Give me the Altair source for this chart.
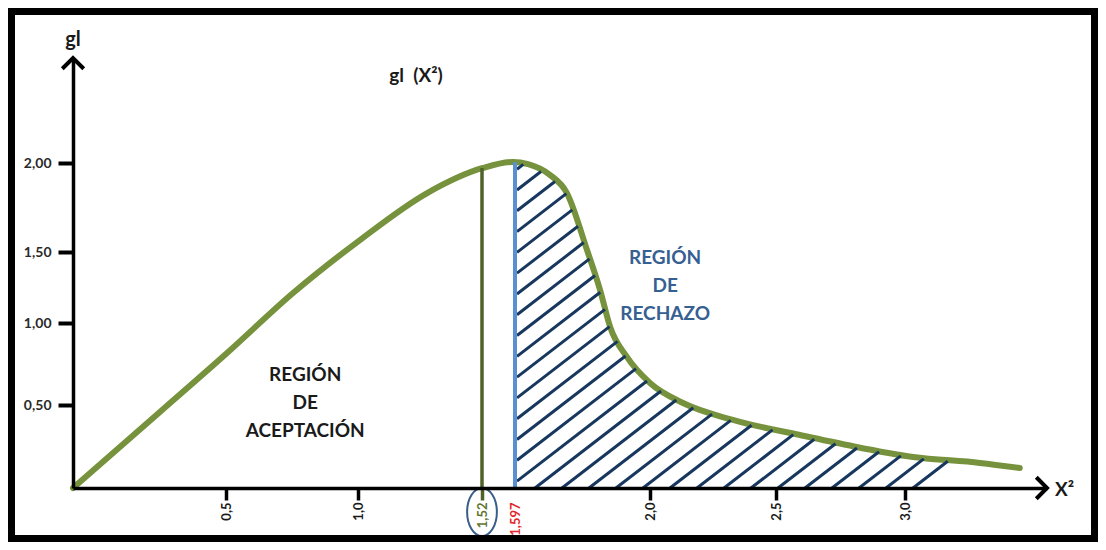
import altair as alt
import numpy as np
import pandas as pd

# ---------------- data ----------------
curve_x = [0.0, 0.284, 0.504, 0.754, 1.008, 1.290, 1.522, 1.592, 1.636, 1.700,
           1.752, 1.812, 1.851, 1.881, 1.931, 2.0, 2.131, 2.329, 2.593, 2.775,
           3.034, 3.316, 3.485]
curve_y = [0.0, 0.458, 0.817, 1.211, 1.567, 1.831, 1.972, 2.006, 1.994, 1.935,
           1.831, 1.511, 1.232, 0.976, 0.793, 0.634, 0.512, 0.410, 0.319, 0.259,
           0.187, 0.151, 0.120]

cut_x = [1.52, 1.597]
cut_top = [1.972, 2.004]
cut_color = ["#4F6228", "#5B8FD3"]
cut_width = [3.5, 4]

x_ticks = [0.5, 1.0, 1.52, 1.597, 2.0, 2.5, 3.0]
x_tick_labels = ["0,5", "1,0", "1,52", "1,597", "2,0", "2,5", "3,0"]
y_ticks = [0.5, 1.0, 1.5, 2.0]
y_tick_labels = ["0,50", "1,00", "1,50", "2,00"]

# hand-drawn axes: uneven spacing between tick values (piecewise scales)
X_DOM = [0, 0.5, 1.0, 1.52, 1.597, 2.0, 2.5, 3.0, 3.6]
X_RNG = [0, 153, 285, 409, 442, 577, 703, 832, 974]
Y_DOM = [0, 0.5, 1.0, 1.5, 2.0, 2.6]
Y_RNG = [480, 397, 315, 244, 155, 50]

PAD_L, PAD_B = 65, 54
W, H = 1090 - PAD_L, 534 - PAD_B
FONT = "Lato"

# ---------------- hatch of the rejection region ----------------
SLOPE = 0.77
SPACING = 27
X_LEFT = X_RNG[4] + 2
cx = np.interp(curve_x, X_DOM, X_RNG)
cy = np.interp(curve_y, Y_DOM, Y_RNG)
grid = np.arange(X_LEFT, cx[-1], 0.25)
gy = np.interp(grid, cx, cy)
rows = []
for b in 840 - SPACING * np.arange(0, 40):
    line_y = Y_RNG[0] - SLOPE * (grid - b)
    below = (grid >= b) & (line_y >= gy + 1)
    if not below.any():
        continue
    i0 = int(np.where(below)[0][0])
    after = np.where(~below[i0:])[0]
    i1 = i0 + (int(after[0]) - 1 if len(after) else len(grid) - i0 - 1)
    if i1 <= i0:
        continue
    px0, py0, px1, py1 = grid[i0], line_y[i0], grid[i1], line_y[i1]
    inv_y = lambda v: float(np.interp(-v, -np.array(Y_RNG), Y_DOM))
    rows.append({
        "x0": float(np.interp(px0, X_RNG, X_DOM)), "y0": inv_y(py0),
        "x1": float(np.interp(px1, X_RNG, X_DOM)), "y1": inv_y(py1),
    })
hatch_df = pd.DataFrame(rows)

curve_df = pd.DataFrame({"x": curve_x, "y": curve_y})
cut_df = pd.DataFrame({"x": cut_x, "y0": [0, 0], "y1": cut_top,
                       "c": cut_color, "w": cut_width})


def lab_expr(vals, labs):
    e = "''"
    for v, l in zip(vals, labs):
        e = f"(abs(datum.value - {v}) < 0.0001 ? '{l}' : {e})"
    return e


xs = alt.Scale(domain=X_DOM, range=X_RNG, zero=False, nice=False)
ys = alt.Scale(domain=Y_DOM, range=Y_RNG, zero=False, nice=False)

x_axis = alt.Axis(
    values=x_ticks, labelExpr=lab_expr(x_ticks, x_tick_labels), title="",
    orient="bottom", grid=False,
    domainColor="black", domainWidth=3.5, tickSize=12, tickWidth=3.5,
    tickColor={"condition": [
        {"test": "abs(datum.value - 1.597) < 0.0001", "value": "rgba(0,0,0,0)"},
        {"test": "abs(datum.value - 1.52) < 0.0001", "value": "#4F6228"}],
        "value": "black"},
    labelAngle=270, labelPadding=2, labelFont=FONT, labelFontWeight="bold",
    labelFontSize=13,
    labelColor={"condition": [
        {"test": "abs(datum.value - 1.597) < 0.0001", "value": "#E3262B"},
        {"test": "abs(datum.value - 1.52) < 0.0001", "value": "#5F7530"}],
        "value": "#1a1a1a"},
    labelOverlap=False, zindex=1)

y_axis = alt.Axis(
    values=y_ticks, labelExpr=lab_expr(y_ticks, y_tick_labels), title="",
    orient="left", grid=False,
    domainColor="black", domainWidth=3.5, tickSize=15, tickWidth=4,
    tickColor="black", labelPadding=7, labelFont=FONT, labelFontWeight="bold",
    labelFontSize=14, labelColor="#2a2a2a", labelOverlap=False, zindex=1)


def X(f):
    return alt.X(f, scale=xs, axis=x_axis)


def Y(f):
    return alt.Y(f, scale=ys, axis=y_axis)


curve = alt.Chart(curve_df).mark_line(
    color="#76923C", strokeWidth=6, interpolate="monotone", strokeCap="round"
).encode(x=X("x:Q"), y=Y("y:Q"))

hatch = alt.Chart(hatch_df).mark_rule(color="#17375E", strokeWidth=3).encode(
    x=X("x0:Q"), y=Y("y0:Q"), x2="x1:Q", y2="y1:Q")

cuts = alt.Chart(cut_df).mark_rule().encode(
    x=X("x:Q"), y=Y("y0:Q"), y2="y1:Q",
    color=alt.Color("c:N", scale=None),
    strokeWidth=alt.StrokeWidth("w:Q", scale=None))

texts_df = pd.DataFrame([
    {"x": 0.80, "y": 0.683, "t": "REGIÓN\nDE\nACEPTACIÓN", "c": "#1a1a1a"},
    {"x": 2.06, "y": 1.458, "t": "REGIÓN\nDE\nRECHAZO", "c": "#366092"},
])
region_text = alt.Chart(texts_df).mark_text(
    font=FONT, fontWeight="bold", fontSize=19, lineBreak="\n", lineHeight=28,
    align="center", baseline="middle"
).encode(x=X("x:Q"), y=Y("y:Q"),
         text="t:N", color=alt.Color("c:N", scale=None))

title_df = pd.DataFrame([{"x": 1.243, "y": 2.50, "t": "gl\u00a0\u00a0(X²)"}])
title_text = alt.Chart(title_df).mark_text(
    font=FONT, fontWeight="bold", fontSize=19, color="#1a1a1a",
    align="center", baseline="middle"
).encode(x=X("x:Q"), y=Y("y:Q"), text="t:N")

gl_df = pd.DataFrame([{"x": 0.0, "y": 2.6, "t": "gl"}])
gl_text = alt.Chart(gl_df).mark_text(
    font=FONT, fontWeight="bold", fontSize=20, color="#1a1a1a",
    align="center", baseline="middle", dy=-18
).encode(x=X("x:Q"), y=Y("y:Q"), text="t:N")

x2_df = pd.DataFrame([{"x": 3.6, "y": 0.0, "t": "X²"}])
x2_text = alt.Chart(x2_df).mark_text(
    font=FONT, fontWeight="bold", fontSize=19, color="#1a1a1a",
    align="left", baseline="middle", dx=8, dy=2
).encode(x=X("x:Q"), y=Y("y:Q"), text="t:N")

CHEVRON = "M -1,-1 L 0,0 L -1,1"
arrows_df = pd.DataFrame([{"x": 3.6, "y": 0.0, "a": 0},
                          {"x": 0.0, "y": 2.6, "a": 270}])
arrows = alt.Chart(arrows_df).mark_point(
    shape=CHEVRON, size=460, filled=False, stroke="black", strokeWidth=4,
    strokeJoin="miter", opacity=1
).encode(x=X("x:Q"), y=Y("y:Q"), angle=alt.Angle("a:Q", scale=None))

ELLIPSE = "M -0.62,0 A 0.62,1 0 1,0 0.62,0 A 0.62,1 0 1,0 -0.62,0 Z"
ell_df = pd.DataFrame([{"x": 1.52, "y": 0.0}])
ellipse = alt.Chart(ell_df).mark_point(
    shape=ELLIPSE, size=2304, filled=False, stroke="#385D8A", strokeWidth=2,
    yOffset=24, opacity=1
).encode(x=X("x:Q"), y=Y("y:Q"))

frame = alt.Chart(pd.DataFrame({"k": [0]})).mark_rect(
    fill="rgba(0,0,0,0)", stroke="black", strokeWidth=14
).encode(x=alt.value(-PAD_L), x2=alt.value(W),
         y=alt.value(0), y2=alt.value(H + PAD_B))

chart = alt.layer(
    curve, hatch, cuts, region_text, title_text, gl_text, x2_text, arrows,
    ellipse, frame
).properties(
    width=W, height=H, background="white", autosize="none",
    padding={"left": PAD_L, "top": 0, "right": 0, "bottom": PAD_B}
).configure_view(stroke=None)

chart.save("out.html", embed_options={"renderer": "svg", "actions": False})
